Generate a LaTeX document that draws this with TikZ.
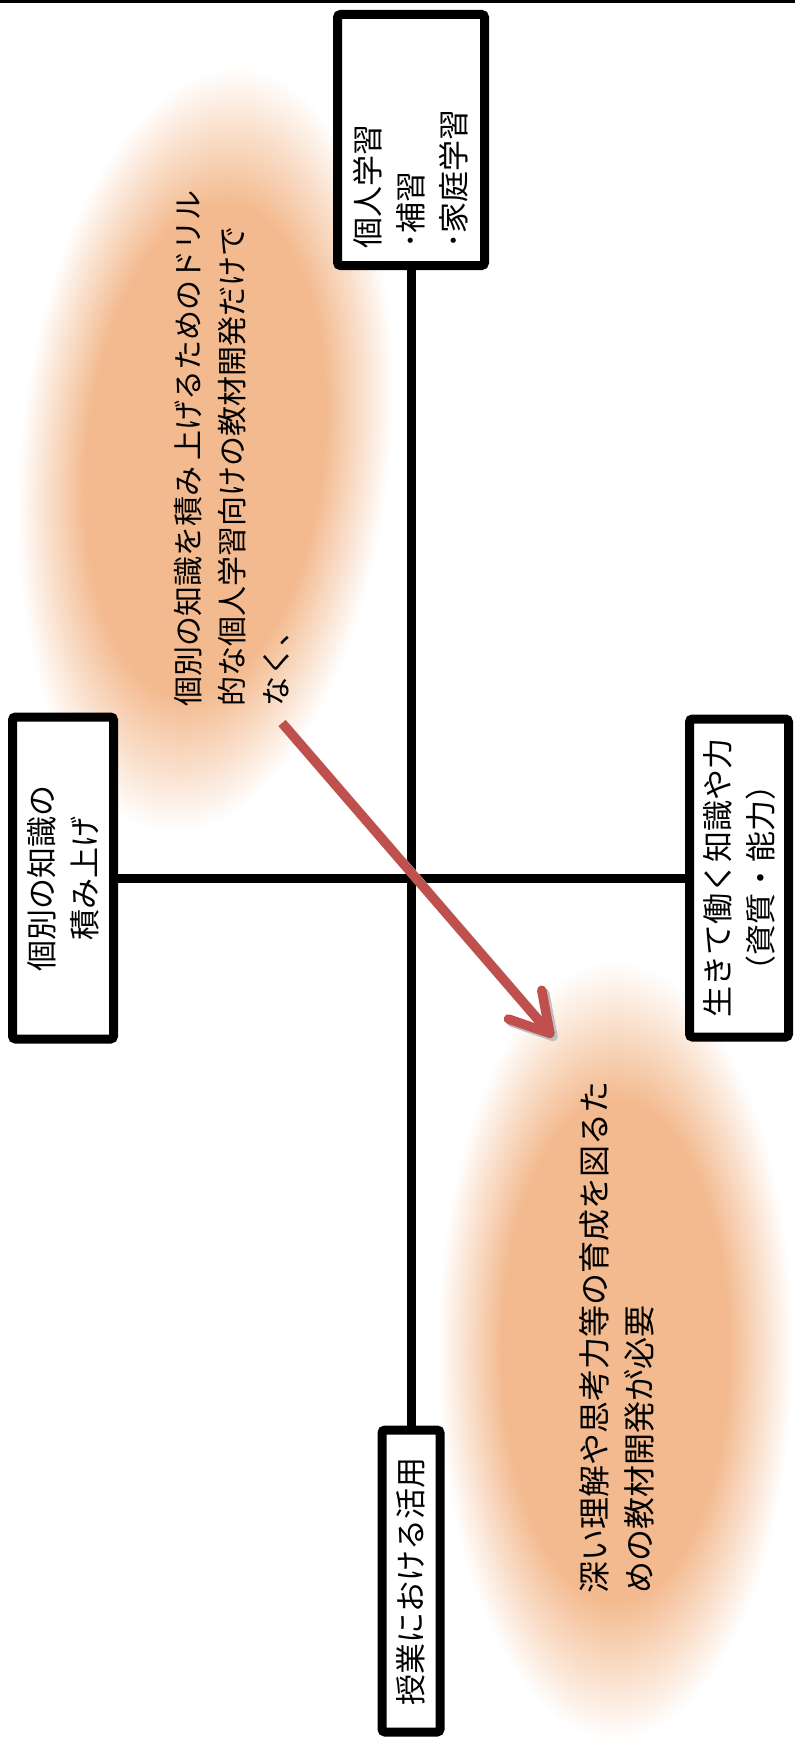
\documentclass[tikz,border=0pt]{standalone}
\usepackage{fontspec}
\setmainfont{Noto Sans CJK JP}
\usetikzlibrary{arrows.meta}
\definecolor{blobcolor}{RGB}{243,186,143}
\definecolor{arrowred}{RGB}{192,80,77}
\pgfdeclareradialshading{blobglow}{\pgfpoint{0bp}{0bp}}{%
  color(0bp)=(blobcolor); color(16bp)=(blobcolor); color(25bp)=(white); color(50bp)=(white)}

\begin{document}
\begin{tikzpicture}[x=1pt, y=-1pt,
    labelbox/.style={draw, fill=white, line width=9pt, rounded corners=3pt, rotate=90,
      font=\fontsize{31}{43}\selectfont},
    axisline/.style={line width=9pt},
    blobtext/.style={rotate=90, anchor=base west, inner sep=0pt, align=left,
      font=\fontsize{30}{44}\selectfont},
    bigarrow/.style={line width=9.5pt, arrowred, -{Straight Barb[length=38pt, width=44pt, round]}},
    arrowshadow/.style={bigarrow, black!25}]
    \useasboundingbox (0,0) rectangle (795,1742);

    % Glow behind the notes
    \shade[shading=blobglow, transform canvas={rotate around={-6:(205,450)}}]
      (205,450) ellipse [x radius=185, y radius=385];
    \shade[shading=blobglow] (615,1350) ellipse [x radius=178, y radius=390];

    % Rule at the top
    \draw[line width=3pt] (0,1.5) -- (795,1.5);

    % Boxes
    \node[labelbox, minimum width=251pt, minimum height=147pt, text width=217pt,
      inner xsep=17pt, align=left] (kojin) at (411,140) {個人学習\\･補習\\･家庭学習};
    \node[labelbox, minimum width=322pt, minimum height=101pt, align=center]
      (kobetsu) at (63,878) {個別の知識の\\積み上げ};
    \node[labelbox, minimum width=318pt, minimum height=99pt, align=center]
      (ikite) at (739,878) {生きて働く知識や力\\（資質・能力）};
    \node[labelbox, minimum width=302pt, minimum height=58pt]
      (jugyo) at (411,1581) {授業における活用};

    % Axes
    \draw[axisline] (kojin) -- (jugyo);
    \draw[axisline] (kobetsu) -- (ikite);

    % Notes (base is the last line)
    \node[blobtext] (note1) at (287,707)
      {個別の知識を積み 上げるためのドリル\\的な個人学習向けの教材開発だけで\\なく、};
    \node[blobtext, font=\fontsize{32}{45}\selectfont] (note2) at (651,1594)
      {深い理解や思考力等の育成を図るた\\めの教材開発が必要};

    % Arrow
    \coordinate (arrtail) at (282,723);
    \coordinate (arrtip) at (553,1037);
    \draw[arrowshadow] ([shift={(3,3)}]arrtail) -- ([shift={(3,3)}]arrtip);
    \draw[bigarrow] (arrtail) -- (arrtip);
\end{tikzpicture}
\end{document}
